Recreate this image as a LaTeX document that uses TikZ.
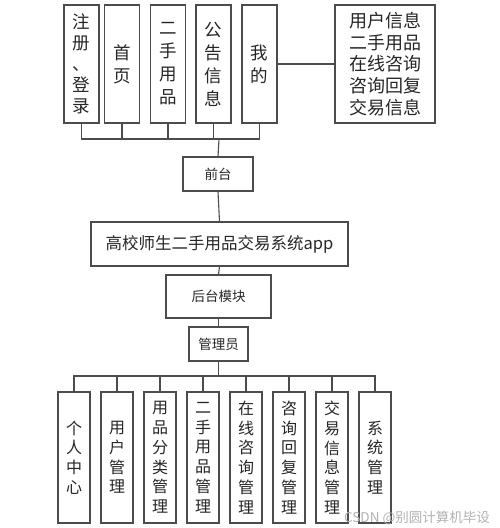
\documentclass[tikz,border=0pt]{standalone}
\usepackage{fontspec}
\newfontfamily\cjk{Noto Sans CJK SC}
\tikzset{
  box/.style={draw=black!70, line width=1.1pt, rectangle, inner sep=0pt, align=center, text=black!85, font=\cjk},
  vtop/.style={box, font=\cjk\fontsize{17.5}{23}\selectfont, minimum width=35pt, minimum height=118pt},
  vbot/.style={box, font=\cjk\fontsize{16}{19.8}\selectfont, minimum width=32pt, minimum height=131pt},
  mid/.style={box, font=\cjk\fontsize{13.5}{16}\selectfont},
  conn/.style={draw=black!70, line width=1.1pt},
}
\begin{document}
\begin{tikzpicture}[x=1pt,y=-1pt]
\useasboundingbox[fill=white] (0,0) rectangle (499,528);
% top row
\node[vtop, font=\cjk\fontsize{17.5}{21}\selectfont] (t1) at (81.5,64) {注\\册\\、\\登\\录};
\node[vtop] (t2) at (122,64) {首\\页};
\node[vtop] (t3) at (168,64) {二\\手\\用\\品};
\node[vtop] (t4) at (213.5,64) {公\\告\\信\\息};
\node[vtop] (t5) at (259.5,64) {我\\的};
\node[box, font=\cjk\fontsize{18}{21.7}\selectfont, minimum width=100pt, minimum height=118pt] (t6) at (385,64) {用户信息\\二手用品\\在线咨询\\咨询回复\\交易信息};
\draw[conn] (t5.east) -- (t6.west);
\coordinate (j1) at (219,139);
\foreach \n in {t1,t2,t3,t4,t5} \draw[conn] (\n.south) |- (j1);
% middle
\node[mid, minimum width=70pt, minimum height=34pt] (qt) at (218,174) {前台};
\draw[conn] (j1) -- (qt.north);
\node[box, font=\cjk\fontsize{16.5}{18}\selectfont, minimum width=257pt, minimum height=44pt] (app) at (219.5,244) {高校师生二手用品交易系统app};
\draw[conn] (qt.south) -- (app.north);
\node[mid, minimum width=105pt, minimum height=43pt] (ht) at (218.5,296.5) {后台模块};
\draw[conn] (app.south) -- (ht.north);
\node[mid, minimum width=59pt, minimum height=34pt] (gly) at (218.5,344) {管理员};
\draw[conn] (ht.south) -- (gly.north);
\coordinate (j2) at (218.5,376);
\draw[conn] (gly.south) -- (j2);
% bottom row
\node[vbot] (b1) at (74,457.5) {个\\人\\中\\心};
\node[vbot] (b2) at (117,457.5) {用\\户\\管\\理};
\node[vbot] (b3) at (160,457.5) {用\\品\\分\\类\\管\\理};
\node[vbot] (b4) at (203,457.5) {二\\手\\用\\品\\管\\理};
\node[vbot] (b5) at (246,457.5) {在\\线\\咨\\询\\管\\理};
\node[vbot] (b6) at (289,457.5) {咨\\询\\回\\复\\管\\理};
\node[vbot] (b7) at (332,457.5) {交\\易\\信\\息\\管\\理};
\node[vbot] (b8) at (375,457.5) {系\\统\\管\\理};
\foreach \n in {b1,b2,b3,b4,b5,b6,b7,b8} \draw[conn] (\n.north) |- (j2);
% watermark
\node[font=\cjk\fontsize{13.5}{15}\selectfont, text=black!30, anchor=east, inner sep=0pt] (wm) at (490,518) {CSDN @别圆计算机毕设};
\end{tikzpicture}
\end{document}
